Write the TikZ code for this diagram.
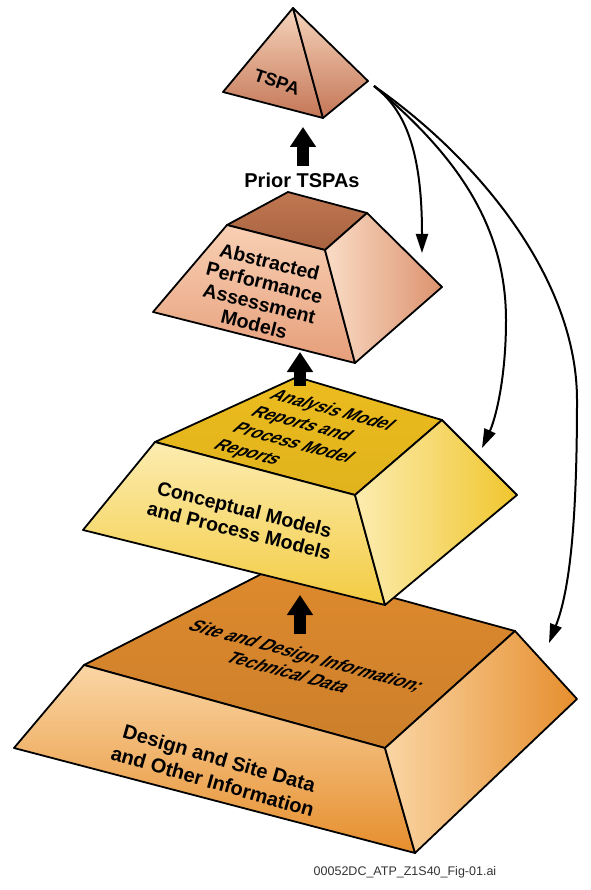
\documentclass[tikz,border=0pt]{standalone}
\usepackage{fontspec}
\setmainfont{Liberation Sans}
\usetikzlibrary{arrows.meta}

% face colours
\definecolor{tspaHi}{RGB}{246,212,188}
\definecolor{tspaLo}{RGB}{196,118,86}
\definecolor{apTopHi}{RGB}{192,120,82}
\definecolor{apTopLo}{RGB}{168,98,64}
\definecolor{apHi}{RGB}{248,208,180}
\definecolor{apLo}{RGB}{230,158,122}
\definecolor{apSideHi}{RGB}{250,220,198}
\definecolor{apSideLo}{RGB}{220,146,110}
\definecolor{yeTop}{RGB}{236,188,30}
\definecolor{yeHi}{RGB}{252,236,176}
\definecolor{yeLo}{RGB}{243,204,66}
\definecolor{yeSideLo}{RGB}{240,198,45}
\definecolor{orTop}{RGB}{222,138,46}
\definecolor{orHi}{RGB}{250,214,165}
\definecolor{orLo}{RGB}{230,142,45}

\begin{document}
\begin{tikzpicture}[x=1pt,y=-1pt,
  edge/.style={draw=black, line width=1.8pt, line join=round},
  lbl/.style={text=black, align=center, inner sep=0pt},
  uparrow/.style={line width=12pt, -{Triangle[length=20pt,width=25pt]}},
  feed/.style={line width=2pt, -{Triangle[length=19pt,width=12pt]}},
]
\useasboundingbox (0,0) rectangle (590,890);

% ---------- corner points ----------
% base tier
\coordinate (oL) at (84,665);   \coordinate (oB) at (277,566);
\coordinate (oR) at (515,631);  \coordinate (oF) at (385,748);
\coordinate (obL) at (14,748);  \coordinate (obF) at (415,853);
\coordinate (obR) at (577,699);
% second tier
\coordinate (yL) at (155,442);  \coordinate (yB) at (297,377);
\coordinate (yR) at (442,420);  \coordinate (yF) at (355,495);
\coordinate (ybL) at (83,530);  \coordinate (ybF) at (385,605);
\coordinate (ybR) at (517,495);
% third tier
\coordinate (aL) at (227,225);  \coordinate (aB) at (288,192);
\coordinate (aR) at (367,213);  \coordinate (aF) at (325,250);
\coordinate (abL) at (153,312); \coordinate (abF) at (355,363);
\coordinate (abR) at (442,287);
% apex
\coordinate (tA) at (293,8);    \coordinate (tL) at (223,92);
\coordinate (tF) at (323,118);  \coordinate (tR) at (368,81);

% ---------- base tier ----------
\shadedraw[edge, top color=orTop, bottom color=orTop!92!black]
  (oL) -- (oB) -- (oR) -- (oF) -- cycle;
\shadedraw[edge, top color=orHi, bottom color=orLo]
  (oL) -- (oF) -- (obF) -- (obL) -- cycle;
\shadedraw[edge, left color=orHi, right color=orLo]
  (oF) -- (oR) -- (obR) -- (obF) -- cycle;

% ---------- second tier ----------
\shadedraw[edge, top color=yeTop, bottom color=yeTop!95!black]
  (yL) -- (yB) -- (yR) -- (yF) -- cycle;
\shadedraw[edge, top color=yeHi, bottom color=yeLo]
  (yL) -- (yF) -- (ybF) -- (ybL) -- cycle;
\shadedraw[edge, left color=yeHi, right color=yeSideLo]
  (yF) -- (yR) -- (ybR) -- (ybF) -- cycle;

% ---------- third tier ----------
\shadedraw[edge, top color=apTopHi, bottom color=apTopLo]
  (aL) -- (aB) -- (aR) -- (aF) -- cycle;
\shadedraw[edge, top color=apHi, bottom color=apLo]
  (aL) -- (aF) -- (abF) -- (abL) -- cycle;
\shadedraw[edge, left color=apSideHi, right color=apSideLo]
  (aF) -- (aR) -- (abR) -- (abF) -- cycle;

% ---------- apex ----------
\shadedraw[edge, top color=tspaHi, bottom color=tspaLo]
  (tA) -- (tL) -- (tF) -- cycle;
\shadedraw[edge, top color=tspaHi, bottom color=tspaLo]
  (tA) -- (tF) -- (tR) -- cycle;

% ---------- upward flow arrows ----------
\coordinate (u1s) at (303,166); \coordinate (u1e) at (303,127);
\coordinate (u2s) at (300,386); \coordinate (u2e) at (300,352);
\coordinate (u3s) at (300,634); \coordinate (u3e) at (300,595);
\draw[uparrow] (u1s) -- (u1e);
\draw[uparrow] (u2s) -- (u2e);
\draw[uparrow] (u3s) -- (u3e);

% ---------- labels ----------
\node[lbl, font=\bfseries\fontsize{18}{20}\selectfont, rotate=-19]
  (tspa) at (277,82) {TSPA};
\node[lbl, font=\bfseries\fontsize{20}{22}\selectfont]
  (prior) at (302,180) {Prior TSPAs};
\node[lbl, font=\bfseries\fontsize{19.5}{21.5}\selectfont, rotate=-14]
  (apam) at (262,293) {Abstracted\\Performance\\Assessment\\Models};
\node[lbl, align=left, font=\bfseries\fontsize{17}{21}\selectfont,
      rotate=-15, xslant=0.65]
  (amr) at (304,436) {Analysis Model\\Reports and\\Process Model\\Reports};
\node[lbl, font=\bfseries\fontsize{19.5}{22}\selectfont, rotate=-14]
  (cpm) at (242,520) {Conceptual Models\\and Process Models};
\node[lbl, font=\bfseries\fontsize{17.5}{21}\selectfont,
      rotate=-15, xslant=0.65]
  (sdi) at (298,664) {Site and Design Information;\\Technical Data};
\node[lbl, font=\bfseries\fontsize{20}{24}\selectfont, rotate=-16]
  (dsd) at (216,770) {Design and Site Data\\and Other Information};
\node[lbl, font=\fontsize{12.5}{14}\selectfont, text=black!80]
  (file) at (405,872) {00052DC\_ATP\_Z1S40\_Fig-01.ai};

% ---------- feedback arrows from the apex ----------
\coordinate (fs) at (374,86);
\coordinate (f1) at (422,253);
\coordinate (f2) at (482,448);
\coordinate (f3) at (549,643);
\draw[feed] (fs) .. controls (405,110) and (422,150) .. (f1);
\draw[feed] (fs) .. controls (450,150) and (506,220) .. (506,320)
             .. controls (506,380) and (495,420) .. (f2);
\draw[feed] (fs) .. controls (480,160) and (577,280) .. (577,400)
             .. controls (577,520) and (570,590) .. (f3);
\end{tikzpicture}
\end{document}
